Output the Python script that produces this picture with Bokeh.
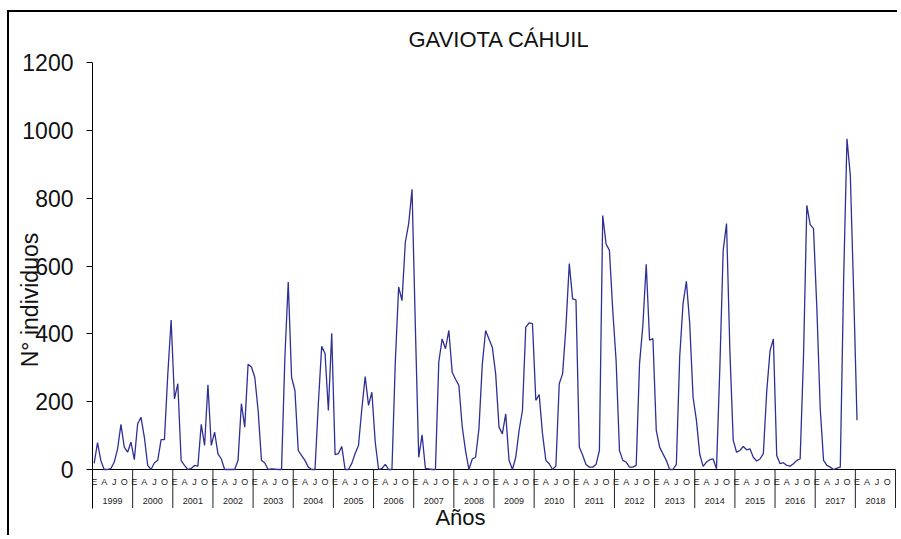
from bokeh.plotting import figure
from bokeh.models import Range1d, FixedTicker, Title
from bokeh.core.properties import value
from bokeh.embed import file_html
from bokeh.resources import INLINE

# ---------------- data ----------------
years = [str(y) for y in range(1999, 2019)]
month_letters = ["E", "A", "J", "O"]
month_letter_index = [0, 3, 6, 9]
y_ticks = [0, 200, 400, 600, 800, 1000, 1200]

v1999 = [18, 79, 26, 0, 0, 3, 22, 61, 133, 66, 51, 81]
v2000 = [29, 135, 154, 95, 12, 0, 20, 27, 88, 88, 280, 441]
v2001 = [208, 253, 26, 12, 0, 3, 12, 10, 133, 71, 250, 71]
v2002 = [110, 46, 31, 0, 0, 0, 0, 27, 194, 125, 310, 302]
v2003 = [272, 174, 27, 19, 0, 2, 1, 0, 0, 330, 553, 272]
v2004 = [233, 56, 41, 27, 7, 0, 0, 194, 363, 342, 174, 402]
v2005 = [44, 47, 68, 0, 0, 18, 47, 71, 179, 274, 189, 228]
v2006 = [81, 0, 3, 15, 0, 0, 317, 538, 498, 670, 725, 826]
v2007 = [420, 36, 102, 3, 2, 0, 0, 317, 385, 356, 410, 287]
v2008 = [266, 248, 126, 55, 0, 31, 36, 120, 310, 410, 385, 360]
v2009 = [282, 125, 105, 164, 27, 0, 36, 115, 174, 420, 432, 430]
v2010 = [204, 221, 105, 27, 17, 0, 10, 253, 282, 420, 607, 503]
v2011 = [500, 66, 42, 15, 7, 7, 15, 56, 749, 665, 646, 469]
v2012 = [320, 56, 27, 22, 7, 7, 12, 312, 426, 605, 381, 386]
v2013 = [115, 66, 46, 27, 0, 0, 15, 331, 489, 555, 430, 213]
v2014 = [145, 45, 9, 22, 29, 31, 2, 300, 646, 725, 350, 86]
v2015 = [51, 56, 68, 58, 61, 36, 25, 31, 47, 228, 350, 385]
v2016 = [41, 17, 20, 12, 10, 17, 27, 31, 330, 779, 722, 710]
v2017 = [474, 180, 27, 12, 7, 0, 4, 7, 560, 975, 867, 523]
v2018 = [145]

counts = (v1999 + v2000 + v2001 + v2002 + v2003 + v2004 + v2005 + v2006 +
          v2007 + v2008 + v2009 + v2010 + v2011 + v2012 + v2013 + v2014 +
          v2015 + v2016 + v2017 + v2018)
month_x = [i + 0.5 for i in range(len(counts))]

# ---------------- layout ----------------
FONT = "Liberation Sans"
W, H = 890, 525
LEFT = 83            # frame left inside the figure
RIGHT = 3
TOP = 50             # frame top (value 1200) inside the figure
ZERO_Y = 457         # pixel row of value 0 inside the figure
K = (ZERO_Y - TOP) / 1200.0
n_months = len(years) * 12
x_end = n_months + 0.3
ppm = (W - RIGHT - LEFT) / x_end
y_bot = -(H - ZERO_Y) / K

MONTH_ROW = -12 / K
YEAR_ROW = -31.7 / K
SEP_BOTTOM = -38.5 / K
ANOS_MID = -47.5 / K

p = figure(width=W, height=H, output_backend="svg", toolbar_location=None,
           x_range=Range1d(0, x_end), y_range=Range1d(y_bot, 1200),
           x_axis_location=None, min_border_left=LEFT, min_border_right=RIGHT,
           min_border_top=TOP, min_border_bottom=0)
p.margin = (10, 0, 0, 7)
p.styles = {"border-left": "2px solid black", "border-top": "2px solid black"}
p.outline_line_color = None
p.xgrid.visible = False
p.ygrid.visible = False

p.add_layout(Title(text="GAVIOTA CÁHUIL", text_font=FONT, text_font_size="22px",
                   text_font_style="normal", text_color="#111111",
                   align="left", offset=316, standoff=21), "above")

ax = p.yaxis[0]
ax.ticker = FixedTicker(ticks=y_ticks)
ax.bounds = (SEP_BOTTOM, y_ticks[-1])
ax.major_label_text_font = FONT
ax.major_label_text_font_size = "23px"
ax.major_label_text_color = "#111111"
ax.major_tick_out = 6
ax.major_tick_in = 0
ax.minor_tick_out = 0
ax.minor_tick_in = 0
ax.major_label_standoff = 13
ax.axis_line_color = "black"
ax.major_tick_line_color = "black"
ax.axis_label = "N° individuos"
ax.axis_label_text_font = FONT
ax.axis_label_text_font_size = "23px"
ax.axis_label_text_font_style = "normal"
ax.axis_label_text_color = "#111111"
ax.axis_label_standoff = -24

# category axis drawn below zero
p.segment(x0=[0], y0=[0], x1=[n_months], y1=[0], line_color="black", line_width=1)
sep_x = [12 * i for i in range(1, len(years) + 1)]
p.segment(x0=sep_x, y0=[0] * len(sep_x), x1=sep_x, y1=[SEP_BOTTOM] * len(sep_x),
          line_color="#222222", line_width=1)

mx, mt = [], []
for yi in range(len(years)):
    for letter, idx in zip(month_letters, month_letter_index):
        mx.append(12 * yi + idx + 0.5)
        mt.append(letter)
p.text(x=mx, y=[MONTH_ROW] * len(mx), text=mt, text_font=value(FONT),
       text_font_size="9px", text_align="center", text_baseline="middle",
       text_color="#222222")
p.text(x=[12 * i + 6 for i in range(len(years))], y=[YEAR_ROW] * len(years),
       text=years, text_font=value(FONT), text_font_size="9px",
       text_align="center", text_baseline="middle", text_color="#222222")

# series
p.line(x=month_x, y=counts, line_color="#2f2f96", line_width=1.3)

# x axis title
p.text(x=[(451 - LEFT) / ppm], y=[ANOS_MID], text=["Años"],
       text_font=value(FONT), text_font_size="22px", text_align="center",
       text_baseline="middle", text_color="#111111")

open("out.html", "w").write(file_html(p, INLINE))
